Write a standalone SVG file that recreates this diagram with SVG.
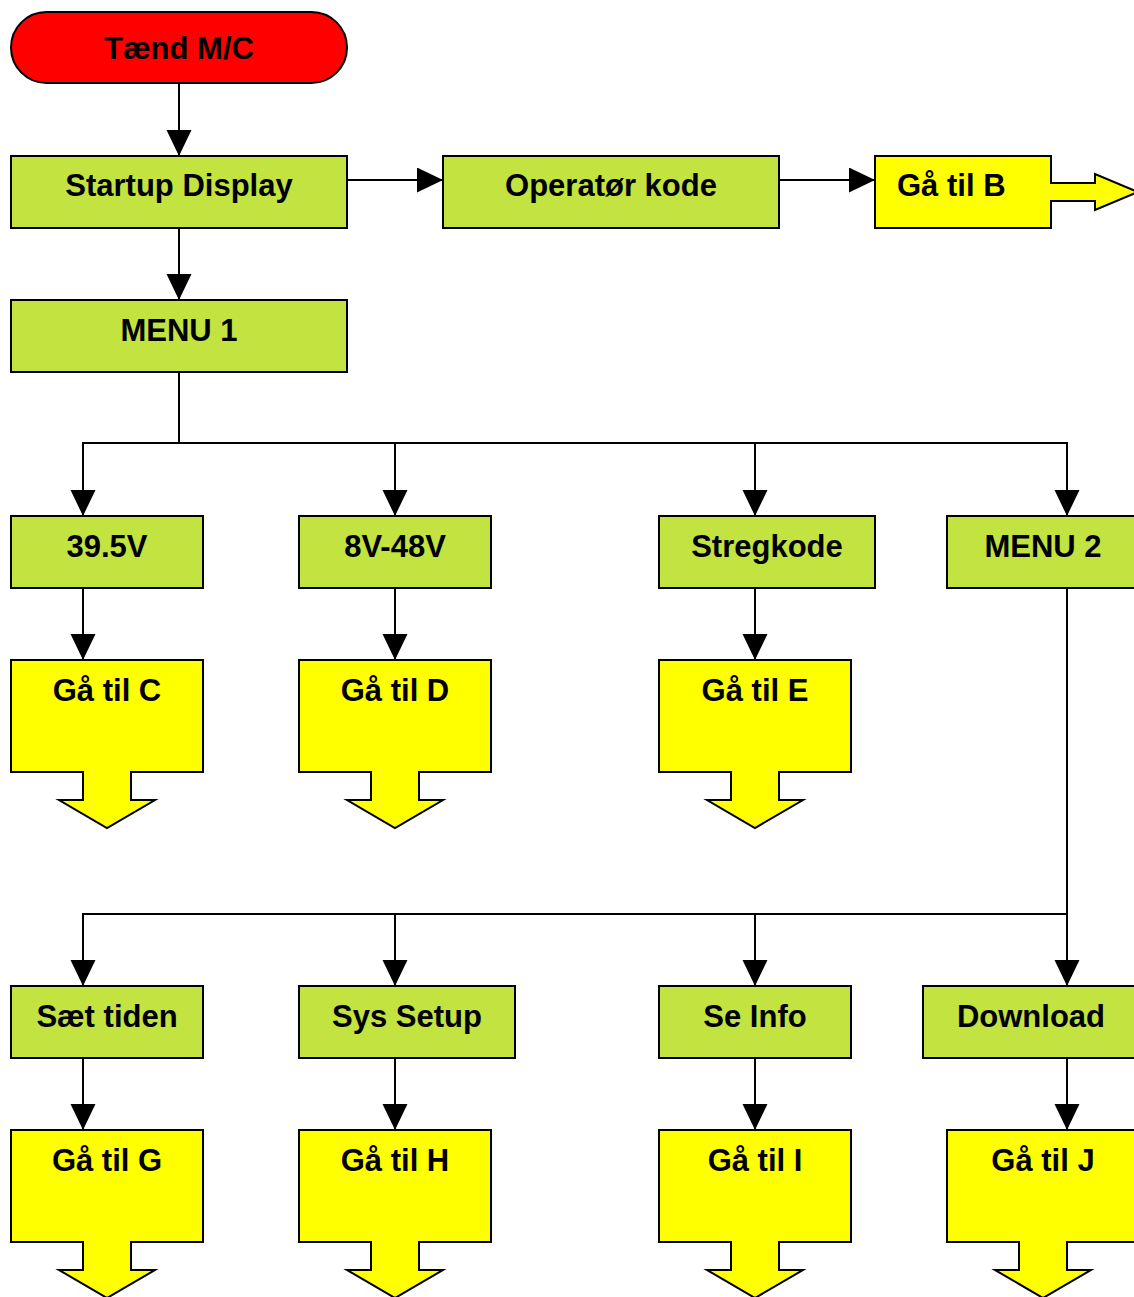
<svg xmlns="http://www.w3.org/2000/svg" width="1134" height="1297" viewBox="0 0 1134 1297">
  <style>
    .proc { fill: #C2E340; stroke: #000; stroke-width: 2; }
    .goto { fill: #FFFF00; stroke: #000; stroke-width: 2; }
    .start { fill: #FF0000; stroke: #000; stroke-width: 2; }
    .lbl { font-family: "Liberation Sans", Arial, sans-serif; font-weight: bold; font-size: 31px; fill: #000; text-anchor: middle; }
    .conn { fill: none; stroke: #000; stroke-width: 2; }
  </style>
  <defs>
    <marker id="arrow" markerUnits="userSpaceOnUse" markerWidth="26" markerHeight="26" refX="26" refY="12.5" orient="auto">
      <path d="M0,0 L26,12.5 L0,25 Z" fill="#000"/>
    </marker>
  </defs>
  <rect width="1134" height="1297" fill="#fff"/>

  <g id="connectors">
    <line class="conn" x1="179" y1="83" x2="179" y2="156" marker-end="url(#arrow)"/>
    <line class="conn" x1="347" y1="180" x2="443" y2="180" marker-end="url(#arrow)"/>
    <line class="conn" x1="779" y1="180" x2="875" y2="180" marker-end="url(#arrow)"/>
    <line class="conn" x1="179" y1="228" x2="179" y2="300" marker-end="url(#arrow)"/>
    <!-- MENU 1 fan-out -->
    <polyline class="conn" points="179,372 179,443"/>
    <line class="conn" x1="82" y1="443" x2="1068" y2="443"/>
    <line class="conn" x1="83" y1="443" x2="83" y2="516" marker-end="url(#arrow)"/>
    <line class="conn" x1="395" y1="443" x2="395" y2="516" marker-end="url(#arrow)"/>
    <line class="conn" x1="755" y1="443" x2="755" y2="516" marker-end="url(#arrow)"/>
    <line class="conn" x1="1067" y1="443" x2="1067" y2="516" marker-end="url(#arrow)"/>
    <line class="conn" x1="83" y1="588" x2="83" y2="660" marker-end="url(#arrow)"/>
    <line class="conn" x1="395" y1="588" x2="395" y2="660" marker-end="url(#arrow)"/>
    <line class="conn" x1="755" y1="588" x2="755" y2="660" marker-end="url(#arrow)"/>
    <!-- MENU 2 fan-out -->
    <line class="conn" x1="1067" y1="588" x2="1067" y2="986" marker-end="url(#arrow)"/>
    <line class="conn" x1="82" y1="914" x2="1068" y2="914"/>
    <line class="conn" x1="83" y1="914" x2="83" y2="986" marker-end="url(#arrow)"/>
    <line class="conn" x1="395" y1="914" x2="395" y2="986" marker-end="url(#arrow)"/>
    <line class="conn" x1="755" y1="914" x2="755" y2="986" marker-end="url(#arrow)"/>
    <line class="conn" x1="83" y1="1058" x2="83" y2="1130" marker-end="url(#arrow)"/>
    <line class="conn" x1="395" y1="1058" x2="395" y2="1130" marker-end="url(#arrow)"/>
    <line class="conn" x1="755" y1="1058" x2="755" y2="1130" marker-end="url(#arrow)"/>
    <line class="conn" x1="1067" y1="1058" x2="1067" y2="1130" marker-end="url(#arrow)"/>
  </g>

  <g id="taend">
    <rect class="start" x="11" y="12" width="336" height="71" rx="35.5" ry="35.5"/>
    <text class="lbl" x="179" y="59">Tænd M/C</text>
  </g>
  <g id="startup">
    <rect class="proc" x="11" y="156" width="336" height="72"/>
    <text class="lbl" x="179" y="196">Startup Display</text>
  </g>
  <g id="operator">
    <rect class="proc" x="443" y="156" width="336" height="72"/>
    <text class="lbl" x="611" y="196">Operatør kode</text>
  </g>
  <g id="goto-b">
    <path class="goto" d="M875,156 H1051 V183 H1095 V174 L1138,192 L1095,210 V201 H1051 V228 H875 Z"/>
    <text class="lbl" x="897" y="196" style="text-anchor:start">Gå til B</text>
  </g>
  <g id="menu1">
    <rect class="proc" x="11" y="300" width="336" height="72"/>
    <text class="lbl" x="179" y="341">MENU 1</text>
  </g>

  <g id="v395">
    <rect class="proc" x="11" y="516" width="192" height="72"/>
    <text class="lbl" x="107" y="557">39.5V</text>
  </g>
  <g id="v8-48">
    <rect class="proc" x="299" y="516" width="192" height="72"/>
    <text class="lbl" x="395" y="557">8V-48V</text>
  </g>
  <g id="stregkode">
    <rect class="proc" x="659" y="516" width="216" height="72"/>
    <text class="lbl" x="767" y="557">Stregkode</text>
  </g>
  <g id="menu2">
    <rect class="proc" x="947" y="516" width="192" height="72"/>
    <text class="lbl" x="1043" y="557">MENU 2</text>
  </g>

  <g id="goto-c">
    <path class="goto" d="M11,660 H203 V772 H131 V800 H155 L107,828 L59,800 H83 V772 H11 Z"/>
    <text class="lbl" x="107" y="701">Gå til C</text>
  </g>
  <g id="goto-d">
    <path class="goto" d="M299,660 H491 V772 H419 V800 H443 L395,828 L347,800 H371 V772 H299 Z"/>
    <text class="lbl" x="395" y="701">Gå til D</text>
  </g>
  <g id="goto-e">
    <path class="goto" d="M659,660 H851 V772 H779 V800 H803 L755,828 L707,800 H731 V772 H659 Z"/>
    <text class="lbl" x="755" y="701">Gå til E</text>
  </g>

  <g id="saet-tiden">
    <rect class="proc" x="11" y="986" width="192" height="72"/>
    <text class="lbl" x="107" y="1027">Sæt tiden</text>
  </g>
  <g id="sys-setup">
    <rect class="proc" x="299" y="986" width="216" height="72"/>
    <text class="lbl" x="407" y="1027">Sys Setup</text>
  </g>
  <g id="se-info">
    <rect class="proc" x="659" y="986" width="192" height="72"/>
    <text class="lbl" x="755" y="1027">Se Info</text>
  </g>
  <g id="download">
    <rect class="proc" x="923" y="986" width="216" height="72"/>
    <text class="lbl" x="1031" y="1027">Download</text>
  </g>

  <g id="goto-g">
    <path class="goto" d="M11,1130 H203 V1242 H131 V1270 H155 L107,1298 L59,1270 H83 V1242 H11 Z"/>
    <text class="lbl" x="107" y="1171">Gå til G</text>
  </g>
  <g id="goto-h">
    <path class="goto" d="M299,1130 H491 V1242 H419 V1270 H443 L395,1298 L347,1270 H371 V1242 H299 Z"/>
    <text class="lbl" x="395" y="1171">Gå til H</text>
  </g>
  <g id="goto-i">
    <path class="goto" d="M659,1130 H851 V1242 H779 V1270 H803 L755,1298 L707,1270 H731 V1242 H659 Z"/>
    <text class="lbl" x="755" y="1171">Gå til I</text>
  </g>
  <g id="goto-j">
    <path class="goto" d="M947,1130 H1139 V1242 H1067 V1270 H1091 L1043,1298 L995,1270 H1019 V1242 H947 Z"/>
    <text class="lbl" x="1043" y="1171">Gå til J</text>
  </g>
</svg>
